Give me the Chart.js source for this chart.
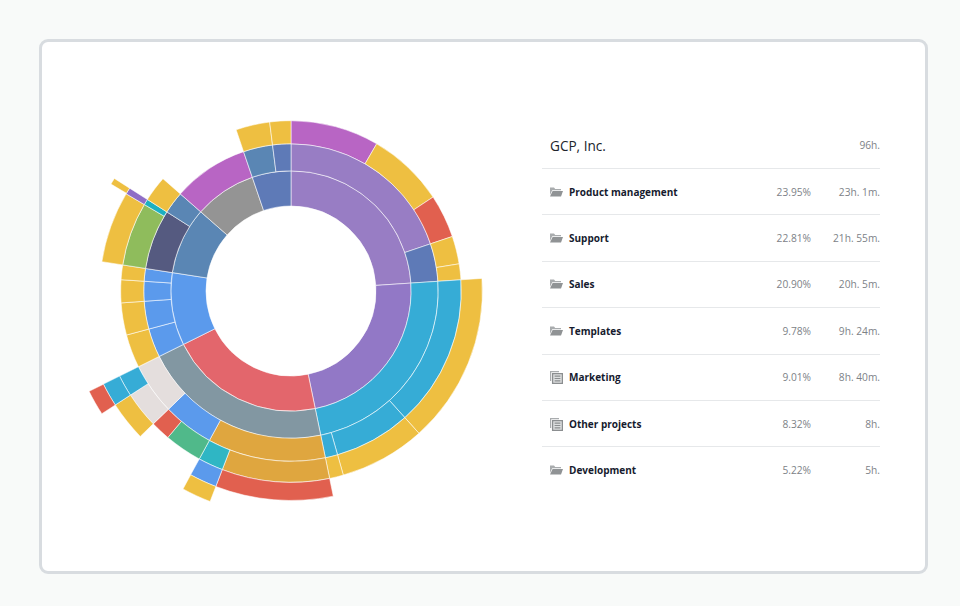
<!DOCTYPE html>
<html>
<head>
<meta charset="utf-8">
<script src="https://cdn.jsdelivr.net/npm/chart.js@4"></script>
<style>
  html,body{margin:0;padding:0;background:#f8faf9;}
  body{width:960px;height:606px;position:relative;overflow:hidden;font-family:"Open Sans",sans-serif;}
  .card{position:absolute;left:39px;top:39px;width:883px;height:529px;background:#fff;border:3px solid #d8dce0;border-radius:9px;}
  #wrap{position:absolute;left:65px;top:65px;width:452px;height:452px;}
  .list{position:absolute;left:542px;top:122.6px;width:338px;}
  .row{display:flex;align-items:center;height:45.4px;border-bottom:1px solid #e6e8ea;font-size:10.2px;color:#7d8287;}
  .row:last-child{border-bottom:0;}
  .row.head .name{font-size:13.6px;font-weight:400;color:#20242c;margin-left:8px;}
  .icon{width:14px;height:14px;margin-left:7px;margin-right:6px;flex:none;}
  .name{flex:1;font-size:10px;font-weight:700;color:#161b2e;}
  .pct{width:60px;text-align:right;}
  .time{width:69px;text-align:right;}
</style>
</head>
<body>
<div class="card"></div>
<div id="wrap"><canvas id="c" width="452" height="452"></canvas></div>
<div class="list" id="list"></div>
<script>
// parts of the 96h total, in %, per ring from the center outwards
const GAP="rgba(0,0,0,0)";
const YEL="#eebf41", RED="#e1604f", CYA="#36acd6", BLU="#5b9aec", STE="#5a86b4", IND="#5e7ab7", GRY="#e4dedd";

const ring1=[23.95,22.81,20.90,9.78,9.01,8.32,5.22];
const ring1Colors=["#987dc4","#9278c6","#e3666c",BLU,STE,"#949494",IND];

const ring2=[19.81,4.14,22.81,20.90,3.17,3.05,2.17,1.39,6.58,2.43,8.32,3.22,2.00];
const ring2Colors=["#987dc4",IND,CYA,"#8297a2",BLU,BLU,BLU,BLU,"#555a80",STE,"#b865c4",STE,IND];

const ring3=[8.39,7.31,4.11,2.64,1.50,14.39,7.25,1.17,11.19,4.83,4.88,3.17,3.05,2.17,1.39,6.03,0.55,2.43,8.32,3.22,2.00];
const ring3Colors=["#b865c4",YEL,RED,YEL,YEL,CYA,CYA,CYA,"#dfa63f",BLU,GRY,YEL,YEL,YEL,YEL,"#8fbc5c","#1cb0c0",YEL,GAP,YEL,YEL];

const ring4=[23.95,14.39,7.25,1.17,9.08,2.11,3.17,1.66,3.06,1.82,9.78,6.03,0.55,15.97];
const ring4Colors=[GAP,YEL,YEL,YEL,"#dfa63f","#2fb6c4","#50b98a",RED,GRY,CYA,GAP,YEL,"#8f6ec6",GAP];

const ring5=[46.76,9.08,2.11,4.83,3.06,1.82,15.86,0.50,15.97];
const ring5Colors=[GAP,RED,BLU,GAP,YEL,CYA,GAP,YEL,GAP];

const ring6=[55.84,2.11,7.89,1.82,32.34];
const ring6Colors=[GAP,YEL,GAP,RED,GAP];

const ringWeights=[35,27,23,21,18,16];

const title="GCP, Inc.";
const totalTime="96h.";
const projects=["Product management","Support","Sales","Templates","Marketing","Other projects","Development"];
const shares=["23.95%","22.81%","20.90%","9.78%","9.01%","8.32%","5.22%"];
const times=["23h. 1m.","21h. 55m.","20h. 5m.","9h. 24m.","8h. 40m.","8h.","5h."];
const icons=["folder","folder","folder","folder","pages","pages","folder"];

const ICON={
  folder:'<svg class="icon" viewBox="0 0 14 14"><path d="M1 2.5h4l1.2 1.4H12v1.3H3.2L1 10z" fill="#a9acae"/><path d="M3.6 6H14l-2 5.6H1z" fill="#909395"/></svg>',
  pages:'<svg class="icon" viewBox="0 0 14 14"><path d="M1 1h9v1.2H2.2V11H1z" fill="#a9acae"/><path d="M3.6 3.6H13.4V13.4H3.6z" fill="#dcdedf" stroke="#8b8e90" stroke-width="1.3"/><path d="M5.6 6.2h5.8M5.6 8.5h5.8M5.6 10.8h5.8" stroke="#8b8e90" stroke-width="1.2"/></svg>'
};

function ds(data,colors,weight){
  return {
    data,
    weight,
    backgroundColor:colors,
    borderColor:colors.map(c=>c===GAP?GAP:"rgba(255,255,255,.55)"),
    borderWidth:1
  };
}

// doughnut draws the first dataset outermost, so the rings go in reversed
const rings=[[ring1,ring1Colors],[ring2,ring2Colors],[ring3,ring3Colors],[ring4,ring4Colors],[ring5,ring5Colors],[ring6,ring6Colors]];
const datasets=rings.map((r,i)=>ds(r[0],r[1],ringWeights[i])).reverse();

new Chart(document.getElementById("c"),{
  type:"doughnut",
  data:{datasets},
  options:{
    responsive:false,
    animation:false,
    cutout:85,
    plugins:{legend:{display:false},tooltip:{enabled:false}}
  }
});

// right hand list
let html=`<div class="row head"><span class="name">${title}</span><span class="time">${totalTime}</span></div>`;
projects.forEach((p,i)=>{
  html+=`<div class="row">${ICON[icons[i]]}<span class="name">${p}</span><span class="pct">${shares[i]}</span><span class="time">${times[i]}</span></div>`;
});
document.getElementById("list").innerHTML=html;
</script>
</body>
</html>
